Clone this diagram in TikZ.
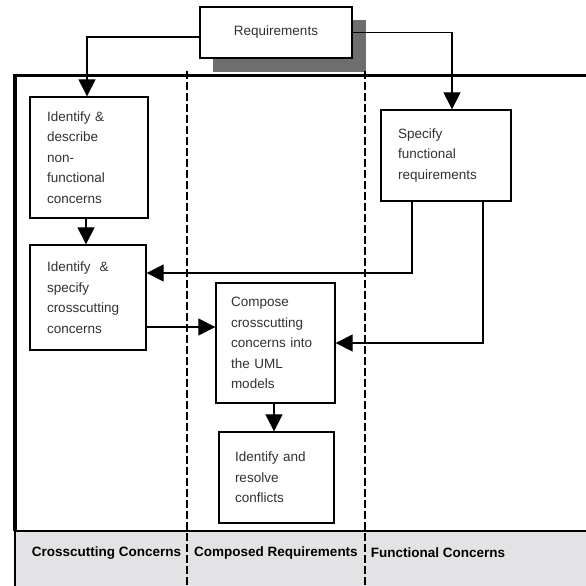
\documentclass[tikz,border=0pt]{standalone}
\usepackage{fontspec}
\setmainfont{Liberation Sans}
\usepackage{tikz}
\usetikzlibrary{arrows.meta, positioning}
\definecolor{myshadow}{RGB}{110,110,110}
\definecolor{myband}{RGB}{227,227,229}
\definecolor{mytext}{RGB}{50,50,50}
\tikzset{
  procbox/.style={rectangle, draw=black, fill=white, line width=1.3pt,
    inner xsep=0pt, inner ysep=0pt, align=left, text=mytext,
    font=\fontsize{13.5}{20.5}\selectfont},
  reqbox/.style={rectangle, draw=black, fill=white, line width=1.3pt,
    minimum width=152pt, minimum height=51pt, text=mytext,
    font=\fontsize{13.5}{16}\selectfont},
  bandlabel/.style={font=\fontsize{13.5}{16}\selectfont\bfseries, text=black},
  arrow/.style={-{Triangle[length=17pt, width=17pt]}, line width=1.2pt, color=black},
  lane/.style={line width=2.4pt, dash pattern=on 8pt off 3pt, color=black},
  frame/.style={line width=3.2pt, color=black}
}

\begin{document}
\begin{tikzpicture}[x=1pt, y=-1pt]
  \useasboundingbox (0,0) rectangle (586,586);
  \fill[myband] (14,531) rectangle (586,586);
  \draw[line width=1.2pt] (14,531) -- (586,531);
  \draw[frame] (15,74) -- (15,531);
  \draw[line width=1.5pt] (15,531) -- (15,586);
  \fill[myshadow] (213,20) rectangle (366,72);
  \draw[frame] (13.4,75.5) -- (586,75.5);
  \draw[lane] (187,71) -- (187,586);
  \draw[lane] (365,71) -- (365,586);

  \node[reqbox] (req) at (276,32.5) {Requirements};
  \node[procbox, minimum width=118pt, minimum height=121pt, text width=84pt] (nfc) at (89,157.5)
    {Identify \&\\describe\\non-\\functional\\concerns};
  \node[procbox, minimum width=116pt, minimum height=105pt, text width=82pt] (ccc) at (88,297.5)
    {Identify\ \ \&\\specify\\crosscutting\\concerns};
  \node[procbox, minimum width=130pt, minimum height=91pt, text width=96pt] (sfr) at (446,155.5)
    {Specify\\functional\\requirements\\[6pt]};
  \node[procbox, minimum width=119pt, minimum height=120pt, text width=89pt] (comp) at (275.5,343)
    {Compose\\crosscutting\\concerns into\\the UML\\models};
  \node[procbox, minimum width=115pt, minimum height=91pt, text width=83pt] (conf) at (276.5,477.5)
    {Identify and\\resolve\\conflicts};

  \node[bandlabel] (lcc) at (106.5,553) {Crosscutting Concerns};
  \node[bandlabel] (lcr) at (276,553) {Composed Requirements};
  \node[bandlabel] (lfc) at (438,553) {Functional Concerns};

  \coordinate (c1) at ([yshift=-29.5pt]ccc.east);
  \draw[arrow] ([yshift=-4.5pt]req.west) -| ([xshift=-2pt]nfc.north);
  \draw[arrow] (req.east) -| ([xshift=6pt]sfr.north);
  \draw[arrow] ([xshift=-3pt]nfc.south) -- ([xshift=-3pt]nfc.south |- ccc.north);
  \draw[arrow] ([xshift=-34pt]sfr.south) |- ([yshift=24.5pt]ccc.east);
  \draw[arrow] ([xshift=37pt]sfr.south) |- (comp.east);
  \draw[arrow] (c1) -- (c1 -| comp.west);
  \draw[arrow] ([xshift=-1.5pt]comp.south) -- ([xshift=-1.5pt]comp.south |- conf.north);
\end{tikzpicture}
\end{document}
